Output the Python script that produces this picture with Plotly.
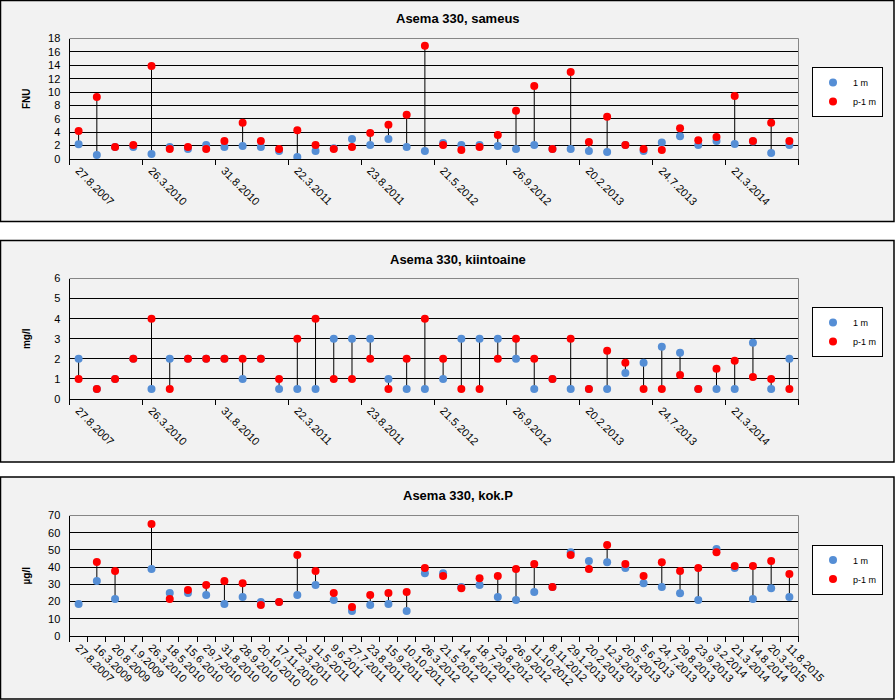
import plotly.graph_objects as go

categories = ["27.8.2007", "16.3.2009", "20.8.2009", "1.9.2009", "26.3.2010", "18.5.2010",
              "15.6.2010", "29.7.2010", "31.8.2010", "28.9.2010", "20.10.2010", "17.11.2010",
              "22.3.2011", "11.5.2011", "9.6.2011", "27.7.2011", "23.8.2011", "15.9.2011",
              "10.10.2011", "26.3.2012", "21.5.2012", "14.6.2012", "18.7.2012", "23.8.2012",
              "26.9.2012", "11.10.2012", "8.11.2012", "29.1.2013", "20.2.2013", "12.3.2013",
              "20.5.2013", "5.6.2013", "24.7.2013", "29.8.2013", "23.9.2013", "3.2.2014",
              "21.3.2014", "14.8.2014", "20.3.2015", "11.8.2015"]

sameus_1m = [2.2, 0.6, 1.8, 1.8, 0.75, 1.8, 1.5, 2.1, 1.8, 1.95, 1.8, 1.2, 0.3, 1.2, 1.6, 3.0,
             2.1, 3.0, 1.8, 1.2, 2.4, 2.1, 2.1, 1.95, 1.5, 2.1, 1.5, 1.5, 1.2, 1.05, 2.1, 1.2,
             2.45, 3.4, 2.1, 2.7, 2.25, 2.6, 0.9, 2.1]
sameus_p1m = [4.2, 9.25, 1.8, 2.1, 13.9, 1.5, 1.8, 1.5, 2.7, 5.4, 2.7, 1.5, 4.3, 2.1, 1.5, 1.8,
              3.9, 5.1, 6.6, 16.9, 2.1, 1.35, 1.8, 3.6, 7.2, 10.9, 1.5, 13.0, 2.55, 6.3, 2.1, 1.5,
              1.35, 4.6, 2.8, 3.3, 9.4, 2.7, 5.4, 2.7]

kiinto_1m = [2, 0.5, 1, 2, 0.5, 2, 2, 2, 2, 1, 2, 0.5, 0.5, 0.5, 3, 3, 3, 1, 0.5, 0.5,
             1, 3, 3, 3, 2, 0.5, 1, 0.5, 0.5, 0.5, 1.3, 1.8, 2.6, 2.3, 0.5, 0.5, 0.5, 2.8, 0.5, 2]
kiinto_p1m = [1, 0.5, 1, 2, 4, 0.5, 2, 2, 2, 2, 2, 1, 3, 4, 1, 1, 2, 0.5, 2, 4,
              2, 0.5, 0.5, 2, 3, 2, 1, 3, 0.5, 2.4, 1.8, 0.5, 0.5, 1.2, 0.5, 1.5, 1.9, 1.1, 1.0, 0.5]

kokp_1m = [18.6, 32, 21.5, None, 38.9, 25, 25, 23.8, 18.6, 22.6, 19.7, 19.7, 23.8, 29.6, 20.9,
           14.5, 18, 18.6, 14.5, 36.5, 36.5, 28.5, 29.6, 22.6, 20.9, 25.5, 28.4, 48.7, 43.5, 42.9,
           39.5, 30.7, 28.4, 24.9, 20.9, 50.5, 39.5, 21.5, 27.8, 22.6]
kokp_p1m = [None, 43, 37.7, None, 65, 21.5, 26.7, 29.6, 31.9, 30.7, 18, 19.7, 47, 37.7, 25,
            16.8, 23.8, 25, 25.5, 39.5, 34.8, 27.8, 33.6, 34.8, 38.9, 41.8, 28.4, 47, 38.9, 52.8,
            41.8, 34.8, 42.9, 37.7, 39.5, 48.7, 40.6, 40.6, 43.5, 36]

titles = ["Asema 330, sameus", "Asema 330, kiintoaine", "Asema 330, kok.P"]
units = ["FNU", "mg/l", "µg/l"]
series_names = ["1 m", "p-1 m"]

W, H = 895, 700
BLUE = "#558ED5"
RED = "#FF0000"
FONT = "Liberation Sans, Arial, sans-serif"

plot_x = (69.5, 798.5)
plot_y = [(38.5, 159), (278.5, 399), (515.5, 636)]
frames = [(0.5, 221.5), (240.5, 462), (477, 699)]
title_y = [19, 259, 496]
legend_top = [67, 307, 544.5]
yranges = [(0, 18, 2), (0, 6, 1), (0, 70, 10)]
standoffs = [15, 21, 15]

datasets = [(sameus_1m, sameus_p1m), (kiinto_1m, kiinto_p1m), (kokp_1m, kokp_p1m)]
xs = list(range(1, len(categories) + 1))

fig = go.Figure()
shapes = []
annotations = []

for k in range(3):
    ax = "" if k == 0 else str(k + 1)
    xref, yref = "x" + ax, "y" + ax
    leg = "legend" + ax
    blue, red = datasets[k]
    lx, ly = [], []
    for xi, b, r in zip(xs, blue, red):
        if b is not None and r is not None:
            lx += [xi, xi, None]
            ly += [b, r, None]
    fig.add_trace(go.Scatter(x=lx, y=ly, mode="lines", line=dict(color="black", width=1),
                             showlegend=False, hoverinfo="skip", xaxis=xref, yaxis=yref))
    fig.add_trace(go.Scatter(x=xs, y=blue, mode="markers", name=series_names[0],
                             marker=dict(color=BLUE, size=8), xaxis=xref, yaxis=yref, legend=leg))
    fig.add_trace(go.Scatter(x=xs, y=red, mode="markers", name=series_names[1],
                             marker=dict(color=RED, size=8), xaxis=xref, yaxis=yref, legend=leg))

    top, bot = plot_y[k]
    ydom = [1 - bot / H, 1 - top / H]
    xdom = [plot_x[0] / W, plot_x[1] / W]
    if k < 2:
        lab_idx = list(range(0, len(categories), 4))
        minor_vals = [0.5 + 4 * i for i in range(11)]
    else:
        lab_idx = list(range(len(categories)))
        minor_vals = [0.5 + i for i in range(41)]
    xaxis = dict(domain=xdom, anchor=yref, range=[0.5, 40.5], showgrid=False, zeroline=False,
                 showline=True, linecolor="black", linewidth=1, ticks="", automargin=False,
                 tickmode="array", tickvals=[xs[i] for i in lab_idx],
                 ticktext=[categories[i] for i in lab_idx], tickangle=45,
                 tickfont=dict(family=FONT, size=11, color="black"),
                 minor=dict(tickmode="array", tickvals=minor_vals, ticks="outside",
                            ticklen=5, tickcolor="black", tickwidth=1, showgrid=False))
    y0, y1, dt = yranges[k]
    yaxis = dict(domain=ydom, anchor=xref, range=[y0, y1], dtick=dt, tick0=0,
                 showgrid=True, gridcolor="black", gridwidth=1, zeroline=False,
                 showline=True, linecolor="black", linewidth=1, ticks="", automargin=False,
                 ticklabelstandoff=6,
                 tickfont=dict(family=FONT, size=11, color="black"),
                 title=dict(text="<b>" + units[k] + "</b>", standoff=standoffs[k],
                            font=dict(family=FONT, size=10, color="black")))
    fig.update_layout(**{"xaxis" + ax: xaxis, "yaxis" + ax: yaxis})

    ft, fb = frames[k]
    shapes.append(dict(type="rect", xref="paper", yref="paper", x0=0.5 / W, x1=894 / W,
                       y0=1 - fb / H, y1=1 - ft / H, line=dict(color="black", width=1.5),
                       fillcolor="#F2F2F2", layer="below"))
    shapes.append(dict(type="line", xref="paper", yref="paper",
                       x0=xdom[0], x1=xdom[1], y0=ydom[1], y1=ydom[1],
                       line=dict(color="#868686", width=1), layer="above"))
    shapes.append(dict(type="line", xref="paper", yref="paper",
                       x0=xdom[1], x1=xdom[1], y0=ydom[0], y1=ydom[1],
                       line=dict(color="#868686", width=1), layer="above"))
    annotations.append(dict(text="<b>" + titles[k] + "</b>", xref="paper", yref="paper",
                            x=458 / W, y=1 - title_y[k] / H, xanchor="center", yanchor="middle",
                            showarrow=False, font=dict(family=FONT, size=13, color="black")))
    fig.update_layout(**{leg: dict(x=812 / W, y=1 - legend_top[k] / H, xanchor="left",
                                   yanchor="top", bgcolor="white", bordercolor="black",
                                   borderwidth=1, font=dict(family=FONT, size=9, color="black"),
                                   itemwidth=30, tracegroupgap=0)})

fig.update_layout(width=W, height=H, margin=dict(l=0, r=0, t=0, b=0, autoexpand=False),
                  paper_bgcolor="white", plot_bgcolor="#DBEEF4",
                  shapes=shapes, annotations=annotations,
                  font=dict(family=FONT, color="black"))

fig.write_html("out.html")
